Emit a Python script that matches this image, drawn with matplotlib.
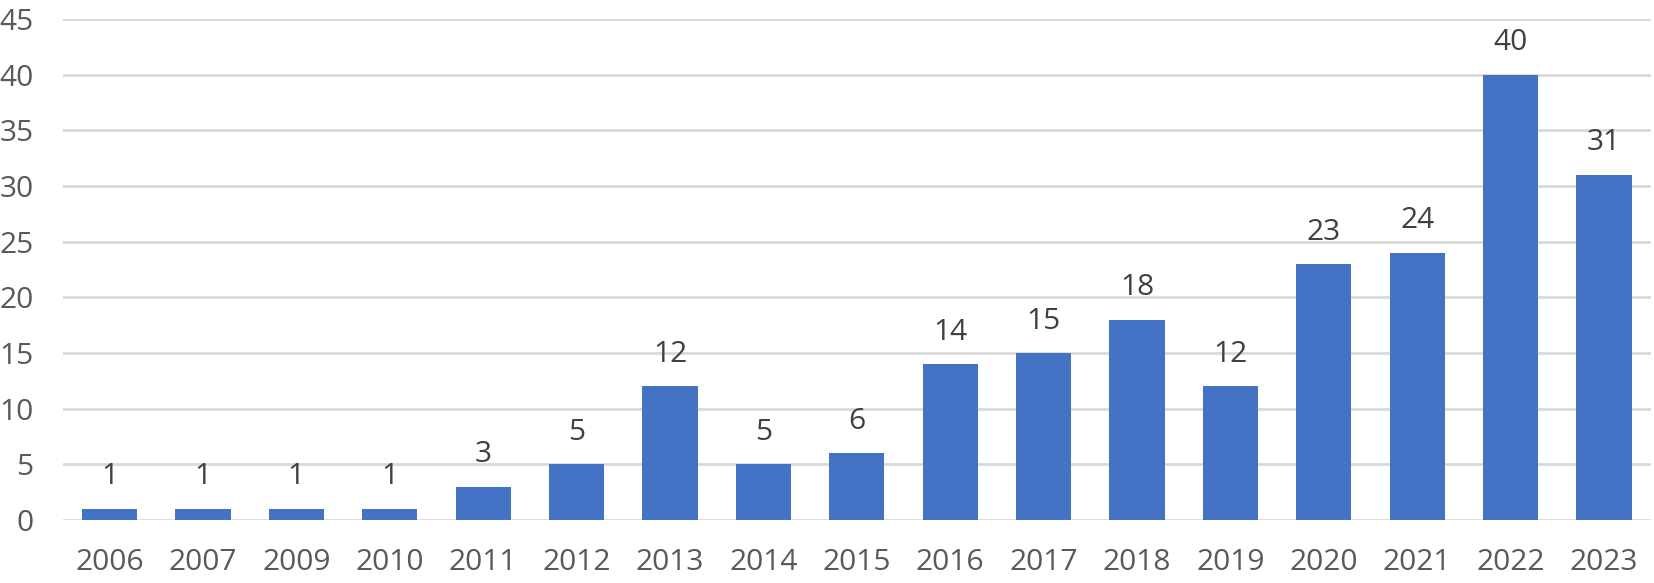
import numpy as np
import matplotlib.pyplot as plt

plt.rcParams['font.family'] = ['Open Sans', 'DejaVu Sans']

years = ['2006', '2007', '2009', '2010', '2011', '2012', '2013', '2014', '2015',
         '2016', '2017', '2018', '2019', '2020', '2021', '2022', '2023']
counts = [1, 1, 1, 1, 3, 5, 12, 5, 6, 14, 15, 18, 12, 23, 24, 40, 31]
yticks = [0, 5, 10, 15, 20, 25, 30, 35, 40, 45]

fig = plt.figure(figsize=(16.54, 5.83), dpi=100)
ax = fig.add_axes([0.038, 0.108, 0.960, 0.8594])

x = np.arange(len(years))
bars = ax.bar(x, counts, width=0.59, color='#4472C4', zorder=3)

for xi, v in zip(x, counts):
    ax.annotate(str(v), (xi, v), xytext=(0, 23), textcoords='offset points',
                ha='center', va='center', fontsize=21.5, color='#404040')

ax.set_xlim(-0.5, len(years) - 0.5)
ax.set_ylim(0, 45)
ax.set_yticks(yticks)
ax.set_xticks(x)
ax.set_xticklabels(years)
ax.tick_params(axis='both', length=0, labelsize=21.5, labelcolor='#595959')
ax.tick_params(axis='y', pad=21)
ax.tick_params(axis='x', pad=20)
ax.grid(axis='y', color='#D9D9D9', linewidth=2.0, zorder=0)
for s in ax.spines.values():
    s.set_visible(False)

fig.savefig('out.png', dpi=100)
